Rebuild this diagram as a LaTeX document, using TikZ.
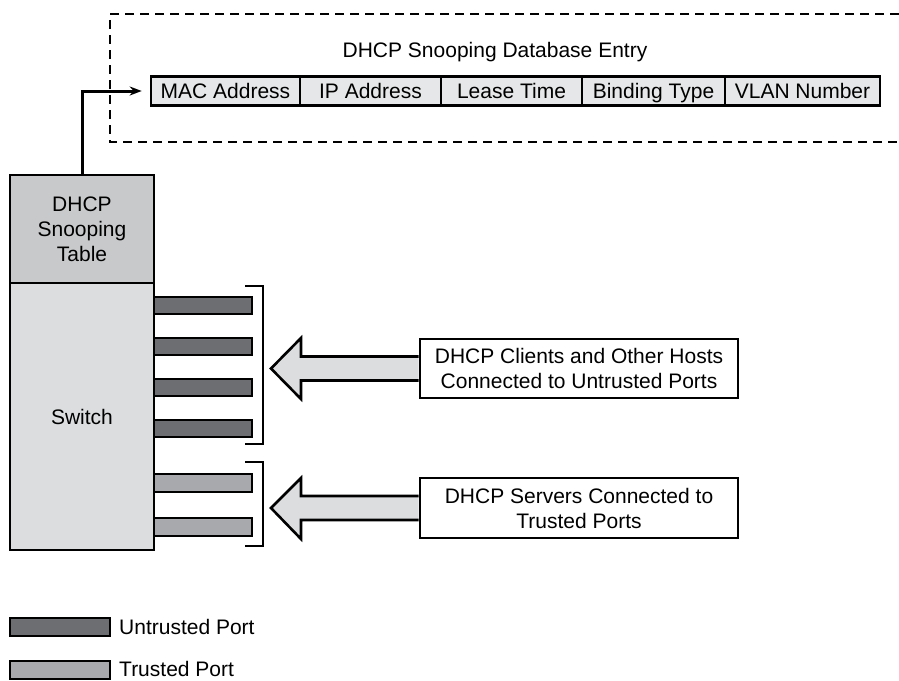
\documentclass[tikz,border=0pt]{standalone}
\usepackage{fontspec}
\setmainfont{Liberation Sans}
\usetikzlibrary{arrows.meta}
\definecolor{untr}{HTML}{6D6E71}
\definecolor{trst}{HTML}{A7A9AC}
\definecolor{tblc}{HTML}{C8C9CB}
\definecolor{swc}{HTML}{DCDDDF}
\definecolor{cellc}{HTML}{E6E7E8}
\begin{document}
\begin{tikzpicture}[x=1pt,y=-1pt,
  txt/.style={font=\fontsize{21}{25}\selectfont},
  cell/.style={draw=black,line width=2.6pt,fill=cellc,inner sep=0pt,minimum height=29pt,text height=17pt,text depth=2pt,txt},
  blk/.style={draw=black,line width=2.6pt,inner sep=0pt,txt,align=center},
  uport/.style={draw=black,line width=2pt,fill=untr,inner sep=0pt,minimum width=98pt,minimum height=17pt},
  tport/.style={draw=black,line width=2pt,fill=trst,inner sep=0pt,minimum width=98pt,minimum height=18pt},
  infobox/.style={draw=black,line width=2.6pt,fill=white,inner sep=0pt,minimum width=318pt,txt,align=center},
  bigarrow/.style={draw=black,line width=2.6pt,fill=swc,line join=miter},
  brk/.style={draw=black,line width=2.6pt},
]
\useasboundingbox (0,0) rectangle (899,680);
% dashed region
\draw[line width=2.6pt,dash pattern=on 9pt off 6pt] (899,14) -- (110,14) -- (110,142) -- (899,142);
\node[txt] (title) at (495,52) {DHCP Snooping Database Entry};
% fields
\node[cell,minimum width=149pt] (mac) at (225.5,91) {MAC Address};
\node[cell,minimum width=141pt] (ip) at (370.5,91) {IP Address};
\node[cell,minimum width=141pt] (lease) at (511.5,91) {Lease Time};
\node[cell,minimum width=143pt] (bind) at (653.5,91) {Binding Type};
\node[cell,minimum width=155pt] (vlan) at (802.5,91) {VLAN Number};
% switch
\node[blk,fill=tblc,minimum width=144pt,minimum height=108pt] (tbl) at (82,229) {DHCP\\Snooping\\Table};
\node[blk,fill=swc,minimum width=144pt,minimum height=267pt] (sw) at (82,416.5) {Switch};
\draw[line width=3pt,-{Stealth[length=12pt,width=9pt]},shorten >=8pt] (tbl.north) |- (mac.west);
% ports
\node[uport] (u1) at (203,305.5) {};
\node[uport] (u2) at (203,346.5) {};
\node[uport] (u3) at (203,387.5) {};
\node[uport] (u4) at (203,428) {};
\node[tport] (t1) at (203,482.5) {};
\node[tport] (t2) at (203,526.5) {};
% brackets
\draw[brk] (245,286) -- (263,286) -- (263,444) -- (245,444);
\draw[brk] (245,462) -- (263,462) -- (263,546) -- (245,546);
% info boxes
\node[infobox,minimum height=59pt] (cl) at (579,368.5) {DHCP Clients and Other Hosts\\Connected to Untrusted Ports};
\node[infobox,minimum height=60pt] (sv) at (579,508) {DHCP Servers Connected to\\Trusted Ports};
% big arrows
\draw[bigarrow] ([yshift=12pt]cl.west) -- (301,356.5) -- (301,338) -- (271,368.5) -- (301,399) -- (301,380.5) -- ([yshift=-12pt]cl.west);
\draw[bigarrow] ([yshift=12pt]sv.west) -- (301,496) -- (301,478) -- (271,508) -- (301,539) -- (301,520) -- ([yshift=-12pt]sv.west);
% legend
\node[uport,minimum width=100pt,minimum height=18pt] (lu) at (60,627) {};
\node[txt,anchor=base west,inner sep=0pt] (lut) at (119,634.5) {Untrusted Port};
\node[tport,minimum width=100pt,minimum height=18pt] (lt) at (60,669.5) {};
\node[txt,anchor=base west,inner sep=0pt] (ltt) at (119,676) {Trusted Port};
\end{tikzpicture}
\end{document}
